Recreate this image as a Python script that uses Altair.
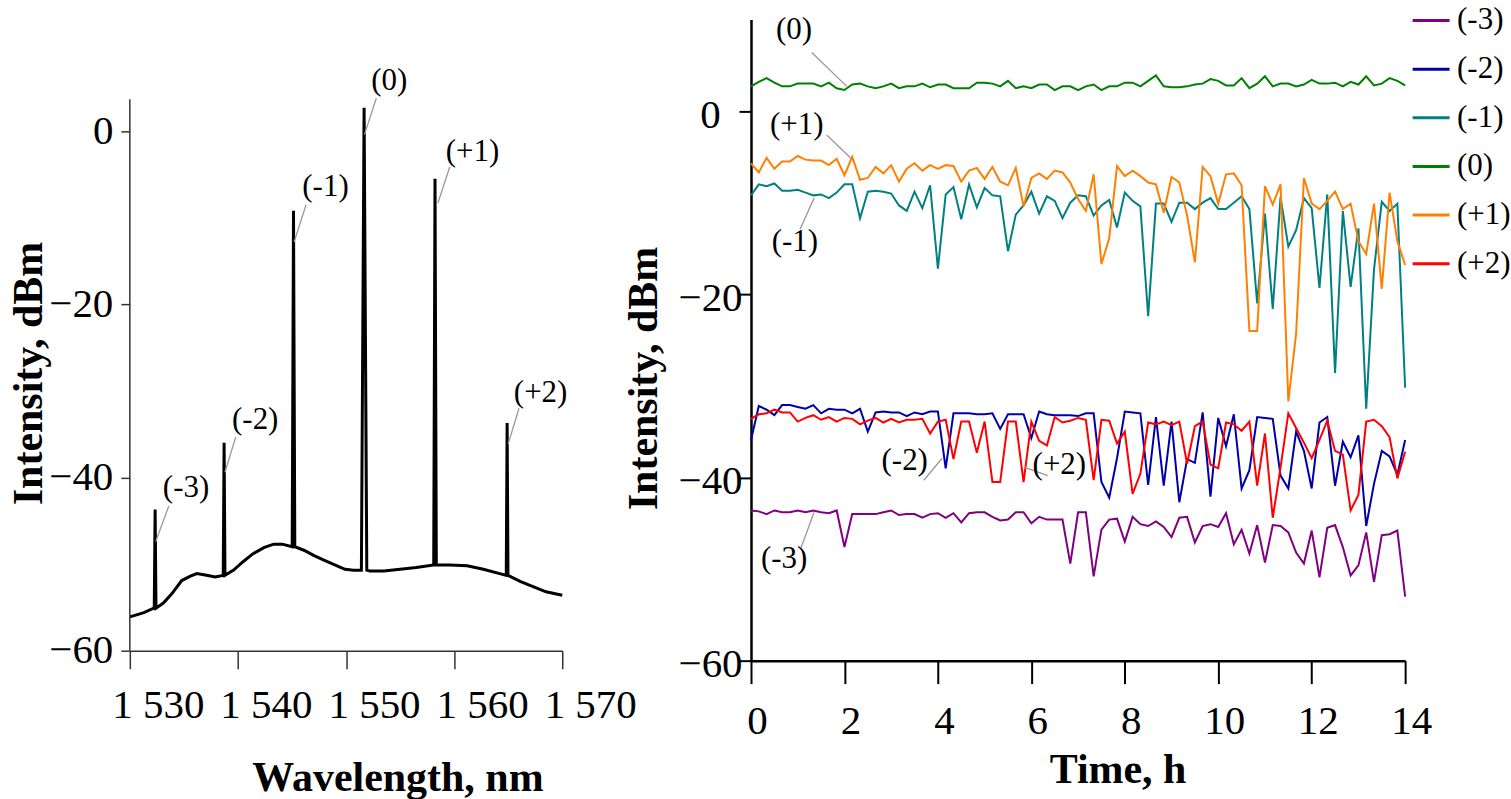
import altair as alt
import pandas as pd

FONT = "Liberation Serif"

# ---------------- Left panel: optical spectrum ----------------
bg_wl = [1530.0, 1531.3, 1532.2, 1533.1, 1533.9, 1534.8, 1535.6, 1536.2, 1537.1, 1537.9,
         1539.6, 1540.5, 1541.4, 1542.4, 1543.3, 1544.1, 1546.1, 1547.0, 1547.9, 1548.8,
         1549.9, 1550.7, 1552.2, 1553.5, 1555.0, 1556.5, 1559.6, 1561.2, 1562.7, 1566.1,
         1567.3, 1568.5, 1570.0]
bg_db = [-56.1, -55.6, -55.1, -54.5, -53.4, -51.9, -51.4, -51.1, -51.3, -51.5,
         -50.7, -49.7, -48.8, -48.1, -47.7, -47.7, -48.4, -49.0, -49.5, -50.0,
         -50.6, -50.7, -50.8, -50.8, -50.6, -50.4, -50.1, -50.2, -50.6, -52.0,
         -52.6, -53.2, -53.6]

peak_wl = [1532.34, 1538.72, 1545.14, 1551.67, 1558.23, 1564.90]
peak_top = [-43.7, -36.0, -9.2, 2.7, -5.5, -33.7]
peak_base = [-55.1, -51.3, -48.0, -50.7, -50.1, -51.3]
peak_hw = [0.08, 0.08, 0.12, 0.25, 0.12, 0.08]

left_labels = ["(-3)", "(-2)", "(-1)", "(0)", "(+1)", "(+2)"]
left_text_wl = [1535.2, 1541.6, 1548.1, 1554.0, 1561.7, 1568.0]
left_text_db = [-41.2, -33.4, -6.5, 5.8, -2.4, -30.2]
left_lead_wl = [1532.4, 1538.8, 1545.2, 1551.7, 1558.5, 1565.0]
left_lead_db = [-47.4, -39.4, -12.8, -0.4, -8.3, -36.1]
left_lead_wl2 = [1533.6, 1539.8, 1546.3, 1552.8, 1559.6, 1566.0]
left_lead_db2 = [-43.3, -35.3, -8.5, 3.8, -4.1, -32.0]

wl_ticks = [1530, 1540, 1550, 1560, 1570]
db_ticks = [-60, -40, -20, 0]

# ---------------- Right panel: time series ----------------
series_names = ["(-3)", "(-2)", "(-1)", "(0)", "(+1)", "(+2)"]
series_colors = ["#800080", "#0000A8", "#008080", "#008000", "#FF8000", "#FF0000"]

s_m3 = [-43.6, -43.7, -44.0, -43.6, -43.8, -43.8, -43.6, -43.8, -43.6, -43.8,
        -43.9, -43.6, -47.6, -44.0, -44.0, -44.0, -44.0, -43.8, -43.6, -44.1,
        -44.0, -44.0, -44.4, -44.0, -43.9, -44.4, -43.9, -44.9, -43.9, -43.8,
        -43.8, -44.3, -44.7, -44.6, -43.8, -43.8, -45.0, -44.3, -44.6, -44.6,
        -44.6, -49.4, -43.8, -43.8, -50.8, -45.7, -44.6, -44.5, -47.0, -44.3,
        -45.1, -45.3, -44.8, -45.4, -46.5, -44.4, -44.3, -47.1, -45.3, -45.1,
        -45.4, -43.9, -47.3, -45.7, -48.3, -45.2, -49.3, -45.2, -45.3, -46.0,
        -48.2, -49.4, -45.8, -50.9, -45.5, -45.2, -47.6, -50.7, -49.6, -46.0,
        -51.4, -46.3, -46.2, -45.8, -53.0]
s_m2 = [-35.9, -32.2, -32.6, -33.2, -32.1, -32.1, -32.3, -32.5, -32.1, -33.0,
        -32.5, -32.6, -32.6, -33.0, -32.5, -35.0, -32.9, -32.8, -32.9, -32.9,
        -33.3, -32.9, -33.1, -32.8, -32.8, -39.0, -33.0, -33.0, -33.0, -33.1,
        -33.1, -33.0, -34.7, -33.1, -33.1, -33.1, -35.7, -32.8, -33.1, -33.2,
        -33.2, -33.2, -33.3, -33.0, -33.0, -40.5, -42.2, -37.9, -32.8, -32.9,
        -33.0, -40.8, -33.4, -40.9, -33.9, -42.7, -38.0, -38.4, -32.9, -42.1,
        -33.5, -36.6, -33.1, -41.2, -39.2, -33.4, -33.5, -33.6, -39.8, -41.2,
        -35.0, -37.1, -41.2, -34.0, -33.4, -40.9, -36.1, -37.8, -35.4, -45.3,
        -40.7, -37.1, -37.7, -39.7, -35.9]
s_m1 = [-9.2, -8.0, -8.2, -7.9, -8.7, -8.7, -8.6, -8.9, -9.2, -9.1,
        -9.5, -8.9, -8.0, -8.0, -11.7, -8.8, -8.7, -8.8, -9.0, -10.3,
        -10.9, -8.8, -10.6, -8.1, -17.2, -9.1, -8.3, -11.8, -8.0, -10.5,
        -8.4, -9.2, -9.3, -15.3, -11.3, -10.3, -8.8, -11.2, -9.3, -9.8,
        -11.7, -10.0, -9.2, -9.3, -11.4, -10.3, -9.7, -12.7, -8.9, -9.8,
        -10.4, -22.4, -10.1, -10.1, -12.1, -10.0, -10.0, -10.7, -10.0, -9.5,
        -10.7, -10.7, -10.0, -9.3, -10.7, -21.0, -11.2, -21.6, -9.4, -14.8,
        -13.0, -9.5, -10.6, -19.3, -9.1, -28.6, -10.9, -19.2, -12.8, -32.5,
        -17.3, -9.9, -10.9, -10.1, -30.2]
s_0 = [2.7, 3.2, 3.6, 3.1, 2.7, 2.7, 3.0, 3.0, 3.0, 2.7,
       3.1, 2.5, 2.3, 2.9, 3.0, 2.7, 2.5, 2.7, 3.0, 2.5,
       2.7, 2.7, 3.0, 2.6, 2.9, 2.9, 2.5, 2.5, 2.5, 3.1,
       3.1, 3.0, 2.7, 3.3, 2.5, 2.7, 2.5, 2.9, 2.9, 2.3,
       2.7, 2.7, 2.3, 2.7, 2.9, 2.3, 2.7, 2.7, 3.1, 3.1,
       2.7, 3.3, 3.9, 2.7, 2.6, 2.6, 2.7, 2.9, 3.0, 3.5,
       3.3, 2.8, 2.8, 3.6, 2.5, 3.0, 3.8, 2.7, 3.0, 3.0,
       2.7, 2.9, 3.4, 3.0, 3.0, 3.1, 2.7, 3.2, 2.9, 3.8,
       2.8, 3.0, 3.6, 3.3, 2.8]
s_p1 = [-5.7, -6.7, -5.1, -6.3, -5.5, -5.5, -4.9, -5.3, -5.4, -5.4,
        -5.9, -5.2, -7.0, -5.0, -7.5, -7.3, -6.1, -6.8, -5.9, -7.7,
        -6.3, -5.7, -6.5, -5.9, -6.3, -5.9, -6.0, -7.7, -6.5, -6.2,
        -7.4, -6.1, -7.7, -8.1, -6.2, -10.4, -7.3, -6.8, -7.4, -6.5,
        -6.7, -7.8, -9.6, -10.9, -6.9, -16.7, -13.9, -6.0, -7.1, -6.5,
        -7.1, -7.8, -8.0, -11.1, -7.2, -7.8, -11.4, -16.5, -6.1, -7.1,
        -10.1, -6.9, -6.8, -8.1, -24.0, -24.0, -8.2, -10.2, -8.0, -31.7,
        -24.3, -7.3, -10.1, -10.7, -9.8, -8.8, -10.7, -10.1, -14.2, -15.6,
        -10.1, -19.4, -8.9, -14.2, -16.8]
s_p2 = [-33.6, -33.1, -33.0, -32.6, -32.9, -32.9, -33.9, -33.5, -33.2, -33.7,
        -33.4, -33.9, -33.5, -33.6, -34.2, -33.8, -33.5, -34.0, -33.6, -34.0,
        -33.7, -33.7, -33.6, -35.2, -33.9, -33.7, -38.0, -33.9, -33.9, -37.3,
        -33.9, -40.5, -40.5, -33.9, -33.9, -40.5, -33.9, -36.0, -36.5, -33.4,
        -34.0, -33.8, -33.5, -33.7, -40.3, -33.7, -33.8, -36.3, -35.0, -41.8,
        -39.6, -34.0, -34.2, -33.9, -34.3, -33.9, -38.5, -34.4, -33.9, -38.6,
        -39.0, -34.0, -34.2, -34.9, -33.9, -40.9, -35.2, -44.4, -38.9, -33.0,
        -34.6, -36.2, -37.9, -35.9, -33.8, -37.1, -37.5, -43.6, -41.9, -33.9,
        -33.7, -34.4, -35.6, -40.1, -37.2]

# measurements every 10 minutes over 14 h
times = [i / 6 for i in range(85)]

right_text_t = [0.71, 3.29, 0.94, 0.92, 0.98, 6.60]
right_text_db = [-48.9, -38.2, -14.3, 8.8, -1.5, -38.6]
right_lead_t = [1.06, 3.70, 1.05, 1.30, 1.62, 6.35]
right_lead_db = [-47.8, -40.3, -12.9, 6.4, -2.6, -39.8]
right_lead_t2 = [1.35, 4.09, 1.35, 2.05, 2.15, 5.86]
right_lead_db2 = [-43.8, -37.9, -9.5, 2.7, -5.2, -38.9]

t_ticks = [0, 2, 4, 6, 8, 10, 12, 14]

# ---------------- Build tables ----------------
spec_rows = [{"wl": w, "db": d} for w, d in zip(bg_wl, bg_db)]
for w, top, base, hw in zip(peak_wl, peak_top, peak_base, peak_hw):
    spec_rows += [{"wl": w - hw, "db": base}, {"wl": w, "db": top}, {"wl": w + hw, "db": base}]
spec_df = pd.DataFrame(spec_rows).sort_values("wl")

left_ann = pd.DataFrame({"label": left_labels, "wl": left_text_wl, "db": left_text_db})
left_lead = pd.DataFrame({"wl": left_lead_wl, "db": left_lead_db,
                          "wl2": left_lead_wl2, "db2": left_lead_db2})
left_axis_line = pd.DataFrame({"wl": [1530], "db": [-60], "db2": [3.7]})

ts_rows = []
for name, vals in zip(series_names, [s_m3, s_m2, s_m1, s_0, s_p1, s_p2]):
    for t, v in zip(times, vals):
        ts_rows.append({"t": t, "db": v, "series": name})
ts_df = pd.DataFrame(ts_rows)

right_ann = pd.DataFrame({"label": series_names, "t": right_text_t, "db": right_text_db})
right_lead = pd.DataFrame({"t": right_lead_t, "db": right_lead_db,
                           "t2": right_lead_t2, "db2": right_lead_db2})

# ---------------- Left chart ----------------
lx_scale = alt.Scale(domain=[1530, 1570], nice=False, zero=False)
ly_scale = alt.Scale(domain=[-60, 12.9], nice=False, zero=False)

lx_axis = alt.Axis(values=wl_ticks, labelExpr="replace(format(datum.value, ',d'), ',', ' ')",
                   tickSize=18, tickWidth=1.5, tickColor="#333333", domainColor="#333333",
                   domainWidth=1.5, labelFontSize=41, labelPadding=49, labelBaseline="alphabetic",
                   labelOffset=28, labelFlush=False, labelOverlap=False,
                   title="Wavelength, nm", titleFontSize=42, titleFontWeight="bold",
                   titleX=268, titleY=140, titleBaseline="alphabetic", titleAlign="center")
ly_axis = alt.Axis(values=db_ticks,
                   labelExpr="datum.value == 0 ? '0\u00a0' : format(datum.value, 'd')",
                   domain=False, tickSize=9, tickWidth=1.5, tickColor="#333333",
                   labelFontSize=41, labelPadding=8, labelFlush=False,
                   title="Intensity, dBm", titleFontSize=42, titleFontWeight="bold",
                   titleAngle=270, titleX=-88, titleY=354, titleBaseline="alphabetic",
                   titleAlign="center")

spec_line = alt.Chart(spec_df).mark_line(color="black", strokeWidth=3).encode(
    x=alt.X("wl:Q", scale=lx_scale, axis=lx_axis),
    y=alt.Y("db:Q", scale=ly_scale, axis=ly_axis),
)
left_axis_rule = alt.Chart(left_axis_line).mark_rule(color="#333333", strokeWidth=1.5).encode(
    x="wl:Q", y="db:Q", y2="db2:Q")
left_leads = alt.Chart(left_lead).mark_rule(color="#999999", strokeWidth=1.3).encode(
    x="wl:Q", y="db:Q", x2="wl2:Q", y2="db2:Q")
left_texts = alt.Chart(left_ann).mark_text(font=FONT, fontSize=31, color="black",
                                           align="center", baseline="middle").encode(
    x="wl:Q", y="db:Q", text="label:N")

left = alt.layer(spec_line, left_axis_rule, left_leads, left_texts).properties(width=433, height=632)

# ---------------- Right chart ----------------
rx_scale = alt.Scale(domain=[0, 14], nice=False, zero=False)
ry_scale = alt.Scale(domain=[-60, 10], nice=False, zero=False)

rx_axis = alt.Axis(values=t_ticks, tickSize=23, tickWidth=2, tickColor="black", domainColor="black",
                   domainWidth=2.5, labelFontSize=41, labelPadding=50, labelBaseline="alphabetic",
                   labelOffset=6, labelFlush=False, labelOverlap=False,
                   title="Time, h", titleFontSize=42, titleFontWeight="bold",
                   titleX=367, titleY=122, titleBaseline="alphabetic", titleAlign="center")
ry_axis = alt.Axis(values=db_ticks, tickSize=12, tickWidth=2, tickColor="black", domainColor="black",
                   domainWidth=2.5, labelFontSize=41, labelPadding=29, labelAlign="center",
                   labelOffset=4, labelFlush=False,
                   title="Intensity, dBm", titleFontSize=42, titleFontWeight="bold",
                   titleAngle=270, titleX=-95, titleY=359, titleBaseline="alphabetic",
                   titleAlign="center")

ts_lines = alt.Chart(ts_df).mark_line(strokeWidth=2).encode(
    x=alt.X("t:Q", scale=rx_scale, axis=rx_axis),
    y=alt.Y("db:Q", scale=ry_scale, axis=ry_axis),
    color=alt.Color("series:N",
                    scale=alt.Scale(domain=series_names, range=series_colors),
                    legend=alt.Legend(orient="none", legendX=661, legendY=-19, title=None,
                                      symbolType="stroke", symbolSize=1369, symbolStrokeWidth=3,
                                      labelFontSize=31, labelFont=FONT, labelColor="black",
                                      labelOffset=6, rowPadding=13.7, padding=0)),
)
right_leads = alt.Chart(right_lead).mark_rule(color="#999999", strokeWidth=1.3).encode(
    x="t:Q", y="db:Q", x2="t2:Q", y2="db2:Q")
right_texts = alt.Chart(right_ann).mark_text(font=FONT, fontSize=31, color="black",
                                             align="center", baseline="middle").encode(
    x="t:Q", y="db:Q", text="label:N")

right = alt.layer(ts_lines, right_leads, right_texts).properties(width=655, height=642)

chart = alt.hconcat(left, right, spacing=189, bounds="flush").resolve_scale(
    x="independent", y="independent", color="independent"
).resolve_legend(color="independent").properties(
    padding={"left": 8, "top": 0, "right": 0, "bottom": 0}
).configure_view(stroke=None).configure_axis(
    labelFont=FONT, titleFont=FONT, labelColor="black", titleColor="black", grid=False
)

chart.save("out.html", embed_options={"renderer": "svg", "actions": False})
